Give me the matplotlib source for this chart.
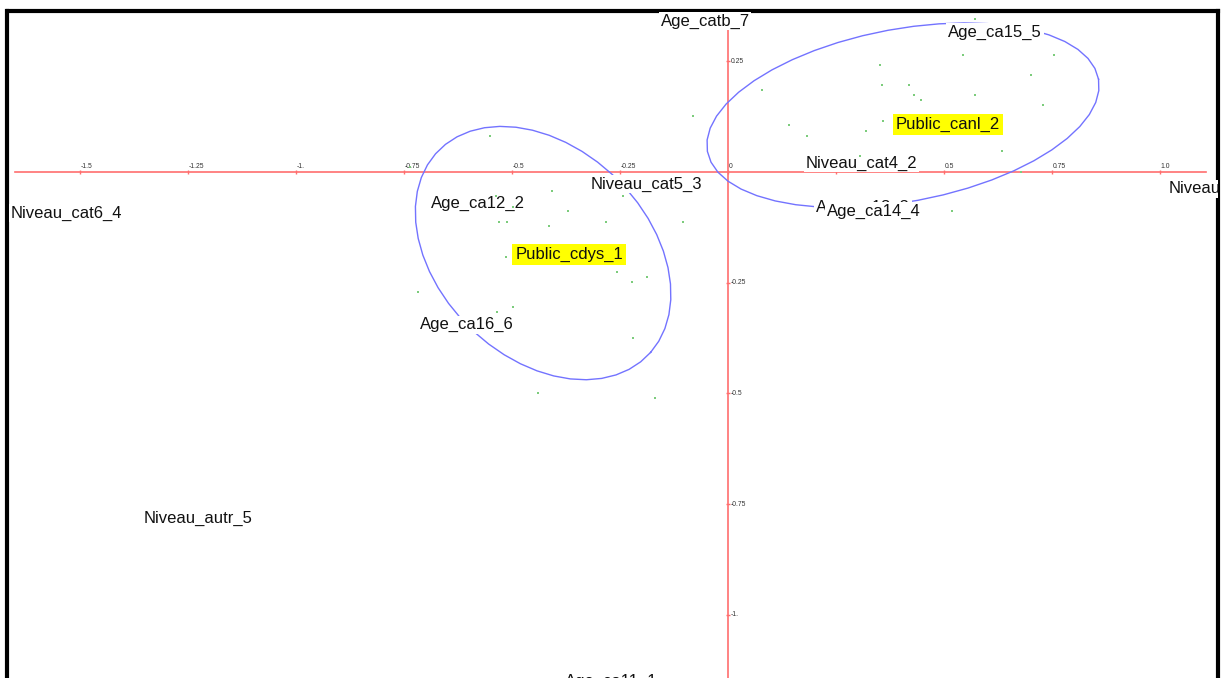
import matplotlib
matplotlib.use("Agg")
import matplotlib.pyplot as plt
import numpy as np

plt.rcParams["font.family"] = ["Liberation Sans", "DejaVu Sans"]

# Points individus (coordonnées factorielles)
pts_x = [0.572, 0.545, 0.755, 0.353, 0.078, 0.357, 0.420, 0.431, 0.446, 0.572,
         0.702, 0.730, -0.080, 0.142, 0.183, 0.359, 0.319, 0.635, 0.306, 0.678,
         0.518, -0.551, -0.737, -0.407, -0.242, -0.537, -0.498, -0.370, -0.529,
         -0.512, -0.282, -0.105, -0.415, -0.514, -0.258, -0.188, -0.222, -0.717,
         -0.498, -0.535, -0.219, -0.439, -0.169]
pts_y = [0.345, 0.264, 0.264, 0.242, 0.185, 0.196, 0.196, 0.174, 0.163, 0.174,
         0.218, 0.151, 0.127, 0.105, 0.082, 0.116, 0.093, 0.048, 0.037, 0.001,
         -0.089, 0.082, 0.012, -0.043, -0.055, -0.055, -0.078, -0.088, -0.112,
         -0.112, -0.112, -0.112, -0.123, -0.191, -0.226, -0.238, -0.249, -0.272,
         -0.305, -0.317, -0.375, -0.500, -0.511]

# Modalités
mod_names = ["Age_catb_7", "Age_ca15_5", "Niveau_cat4_2", "Niveau_cat5_3",
             "Niveau_cat6_4", "Age_ca12_2", "Age_ca16_6", "Age_ca13_3",
             "Age_ca14_4", "Niveau_autr_5", "Age_ca11_1", "Niveau_cat3_1"]
mod_x = [-0.053, 0.618, 0.308, -0.188, -1.532, -0.579, -0.604, 0.3125,
         0.338, -1.227, -0.271, 1.15]
mod_y = [0.341, 0.316, 0.020, -0.027, -0.093, -0.072, -0.345, -0.080,
         -0.089, -0.781, -1.149, -0.038]

# Modalités mises en évidence (publics)
pub_names = ["Public_canl_2", "Public_cdys_1"]
pub_x = [0.509, -0.368]
pub_y = [0.108, -0.187]

# Ellipses de confiance: centre, demi-axes, angle (degrés)
ell_cx = [0.405, -0.428]
ell_cy = [0.128, -0.183]
ell_a = [0.46, 0.335]
ell_b = [0.195, 0.239]
ell_ang = [10.2, -42.0]

# Graduations
xt = [-1.5, -1.25, -1.0, -0.75, -0.5, -0.25, 0.0, 0.25, 0.5, 0.75, 1.0]
xt_lab = ["-1.5", "-1.25", "-1.", "-0.75", "-0.5", "-0.25", "0", "0.25",
          "0.5", "0.75", "1.0"]
yt = [0.25, -0.25, -0.5, -0.75, -1.0]
yt_lab = ["0.25", "-0.25", "-0.5", "-0.75", "-1."]

RED = "#ff6e6e"
BLUE = "#7373ff"
GREEN = "#7ccc7c"

fig = plt.figure(figsize=(12.21, 6.78), dpi=100)
ax = fig.add_axes([7.5 / 1221, 0, (1218 - 7.5) / 1221, 667 / 678])
ax.set_xlim((7.5 - 728) / 432, (1218 - 728) / 432)
ax.set_ylim((172 - 678) / 443, (172 - 11) / 443)
ax.set_xticks([])
ax.set_yticks([])
for s in ["left", "top", "right"]:
    ax.spines[s].set_linewidth(3)
    ax.spines[s].set_color("black")
ax.spines["bottom"].set_visible(False)

# Axes factoriels
ax.plot([-1.650, 1.106], [0, 0], color=RED, lw=1.2, zorder=1)
ax.plot([0, 0], [-1.2, 0.36], color=RED, lw=1.2, zorder=1)
ax.plot(xt, [0] * len(xt), ls="none", marker="|", ms=3.5, mew=1, color=RED, zorder=1)
ax.plot([0] * len(yt), yt, ls="none", marker="_", ms=3.5, mew=1, color=RED, zorder=1)
for v, lab in zip(xt, xt_lab):
    ax.annotate(lab, (v, 0), xytext=(0.6, 1.2), textcoords="offset points",
                ha="left", va="bottom", fontsize=4.9, color="#333333", zorder=1.5)
for v, lab in zip(yt, yt_lab):
    ax.annotate(lab, (0, v), xytext=(1.8, 0), textcoords="offset points",
                ha="left", va="center", fontsize=4.9, color="#333333", zorder=1.5)

# Ellipses
t = np.linspace(0, 2 * np.pi, 49)
for cx, cy, a, b, ang in zip(ell_cx, ell_cy, ell_a, ell_b, ell_ang):
    th = np.radians(ang)
    ex = cx + a * np.cos(t) * np.cos(th) - b * np.sin(t) * np.sin(th)
    ey = cy + a * np.cos(t) * np.sin(th) + b * np.sin(t) * np.cos(th)
    ax.plot(ex, ey, color=BLUE, lw=1, zorder=2)

# Étiquettes des modalités
for i, (name, x, y) in enumerate(zip(mod_names, mod_x, mod_y)):
    ax.text(x, y, name, fontsize=12, ha="center", va="center", color="#111111",
            bbox=dict(facecolor="white", edgecolor="none", pad=1.2),
            zorder=3 + i * 0.01, clip_on=True)
for name, x, y in zip(pub_names, pub_x, pub_y):
    ax.text(x, y, name, fontsize=12, ha="center", va="center", color="#111111",
            bbox=dict(facecolor="#ffff00", edgecolor="none", pad=2.2), zorder=3.5)

# Individus
ax.plot(pts_x, pts_y, ls="none", marker="s", ms=1.5, mew=0, color=GREEN, zorder=4)

plt.savefig("out.png", dpi=100)
plt.close()
